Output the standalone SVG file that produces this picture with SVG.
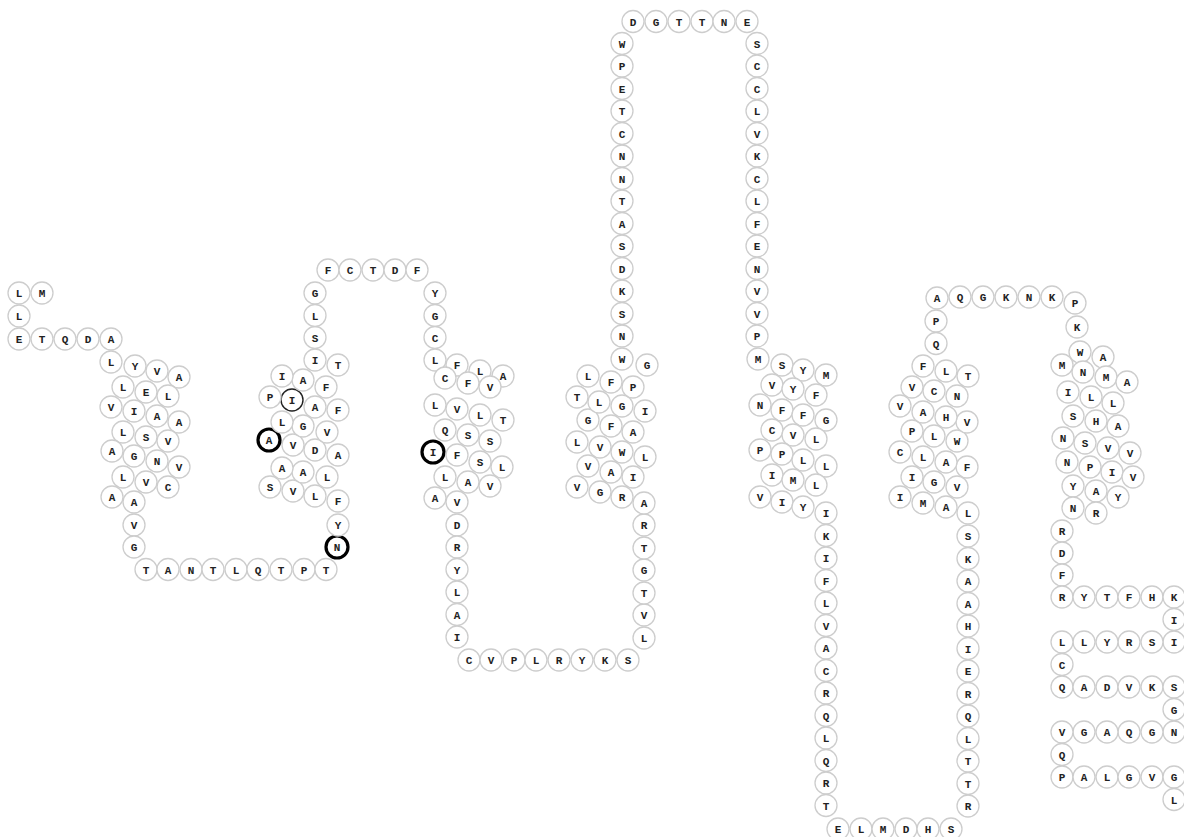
<svg xmlns="http://www.w3.org/2000/svg" width="1184" height="837" viewBox="0 0 1184 837">
<style>
circle{fill:#fff;stroke:#cdcdcd;stroke-width:1.3}
circle.b{stroke:#000;stroke-width:3.2}
circle.k{stroke:#222;stroke-width:1.4}
text{font-family:"Liberation Mono","DejaVu Sans Mono",monospace;font-weight:bold;font-size:11px;text-anchor:middle;fill:#222}
</style>
<rect width="1184" height="837" fill="#fff"/>
<g id="connectors"></g>
<g id="nterm">
<g id="r1" transform="translate(42 293)"><circle r="11"/><text y="4">M</text></g>
<g id="r2" transform="translate(19 293)"><circle r="11"/><text y="4">L</text></g>
<g id="r3" transform="translate(19 316)"><circle r="11"/><text y="4">L</text></g>
<g id="r4" transform="translate(19 339)"><circle r="11"/><text y="4">E</text></g>
<g id="r5" transform="translate(42 339)"><circle r="11"/><text y="4">T</text></g>
<g id="r6" transform="translate(65 339)"><circle r="11"/><text y="4">Q</text></g>
<g id="r7" transform="translate(88 339)"><circle r="11"/><text y="4">D</text></g>
<g id="r8" transform="translate(111 339)"><circle r="11"/><text y="4">A</text></g>
</g>
<g id="tm1">
<g id="r9" transform="translate(111 362)"><circle r="11"/><text y="4">L</text></g>
<g id="r10" transform="translate(135 366)"><circle r="11"/><text y="4">Y</text></g>
<g id="r11" transform="translate(157 371)"><circle r="11"/><text y="4">V</text></g>
<g id="r12" transform="translate(179 377)"><circle r="11"/><text y="4">A</text></g>
<g id="r13" transform="translate(123 387)"><circle r="11"/><text y="4">L</text></g>
<g id="r14" transform="translate(146 392)"><circle r="11"/><text y="4">E</text></g>
<g id="r15" transform="translate(168 396)"><circle r="11"/><text y="4">L</text></g>
<g id="r16" transform="translate(111 407)"><circle r="11"/><text y="4">V</text></g>
<g id="r17" transform="translate(134 411)"><circle r="11"/><text y="4">I</text></g>
<g id="r18" transform="translate(157 416)"><circle r="11"/><text y="4">A</text></g>
<g id="r19" transform="translate(179 422)"><circle r="11"/><text y="4">A</text></g>
<g id="r20" transform="translate(123 432)"><circle r="11"/><text y="4">L</text></g>
<g id="r21" transform="translate(146 437)"><circle r="11"/><text y="4">S</text></g>
<g id="r22" transform="translate(168 441)"><circle r="11"/><text y="4">V</text></g>
<g id="r23" transform="translate(112 451)"><circle r="11"/><text y="4">A</text></g>
<g id="r24" transform="translate(134 456)"><circle r="11"/><text y="4">G</text></g>
<g id="r25" transform="translate(157 461)"><circle r="11"/><text y="4">N</text></g>
<g id="r26" transform="translate(179 467)"><circle r="11"/><text y="4">V</text></g>
<g id="r27" transform="translate(123 477)"><circle r="11"/><text y="4">L</text></g>
<g id="r28" transform="translate(146 482)"><circle r="11"/><text y="4">V</text></g>
<g id="r29" transform="translate(168 487)"><circle r="11"/><text y="4">C</text></g>
<g id="r30" transform="translate(112 497)"><circle r="11"/><text y="4">A</text></g>
<g id="r31" transform="translate(134 502)"><circle r="11"/><text y="4">A</text></g>
<g id="r32" transform="translate(134 525)"><circle r="11"/><text y="4">V</text></g>
<g id="r33" transform="translate(134 547)"><circle r="11"/><text y="4">G</text></g>
</g>
<g id="icl1">
<g id="r34" transform="translate(146 569.5)"><circle r="11"/><text y="4">T</text></g>
<g id="r35" transform="translate(168 569.5)"><circle r="11"/><text y="4">A</text></g>
<g id="r36" transform="translate(191 569.5)"><circle r="11"/><text y="4">N</text></g>
<g id="r37" transform="translate(213 569.5)"><circle r="11"/><text y="4">T</text></g>
<g id="r38" transform="translate(236 569.5)"><circle r="11"/><text y="4">L</text></g>
<g id="r39" transform="translate(258 569.5)"><circle r="11"/><text y="4">Q</text></g>
<g id="r40" transform="translate(281 569.5)"><circle r="11"/><text y="4">T</text></g>
<g id="r41" transform="translate(304 569.5)"><circle r="11"/><text y="4">P</text></g>
<g id="r42" transform="translate(326 569.5)"><circle r="11"/><text y="4">T</text></g>
</g>
<g id="tm2">
<g id="r43" transform="translate(337 547)"><circle r="11" class="b"/><text y="4">N</text></g>
<g id="r44" transform="translate(338 525)"><circle r="11"/><text y="4">Y</text></g>
<g id="r45" transform="translate(338 501)"><circle r="11"/><text y="4">F</text></g>
<g id="r46" transform="translate(315 496)"><circle r="11"/><text y="4">L</text></g>
<g id="r47" transform="translate(293 491)"><circle r="11"/><text y="4">V</text></g>
<g id="r48" transform="translate(270 487)"><circle r="11"/><text y="4">S</text></g>
<g id="r49" transform="translate(327 477)"><circle r="11"/><text y="4">L</text></g>
<g id="r50" transform="translate(303 472)"><circle r="11"/><text y="4">A</text></g>
<g id="r51" transform="translate(282 468)"><circle r="11"/><text y="4">A</text></g>
<g id="r52" transform="translate(338 455)"><circle r="11"/><text y="4">A</text></g>
<g id="r53" transform="translate(315 450)"><circle r="11"/><text y="4">D</text></g>
<g id="r54" transform="translate(293 445)"><circle r="11"/><text y="4">V</text></g>
<g id="r55" transform="translate(269 440)"><circle r="11" class="b"/><text y="4">A</text></g>
<g id="r56" transform="translate(327 432)"><circle r="11"/><text y="4">V</text></g>
<g id="r57" transform="translate(303 426)"><circle r="11"/><text y="4">G</text></g>
<g id="r58" transform="translate(282 422)"><circle r="11"/><text y="4">L</text></g>
<g id="r59" transform="translate(338 410)"><circle r="11"/><text y="4">F</text></g>
<g id="r60" transform="translate(315 407)"><circle r="11"/><text y="4">A</text></g>
<g id="r61" transform="translate(292 400)"><circle r="11" class="k"/><text y="4">I</text></g>
<g id="r62" transform="translate(270 397)"><circle r="11"/><text y="4">P</text></g>
<g id="r63" transform="translate(326 387)"><circle r="11"/><text y="4">F</text></g>
<g id="r64" transform="translate(303 380)"><circle r="11"/><text y="4">A</text></g>
<g id="r65" transform="translate(282 376)"><circle r="11"/><text y="4">I</text></g>
<g id="r66" transform="translate(338 365)"><circle r="11"/><text y="4">T</text></g>
<g id="r67" transform="translate(315 360)"><circle r="11"/><text y="4">I</text></g>
<g id="r68" transform="translate(315 337.5)"><circle r="11"/><text y="4">S</text></g>
<g id="r69" transform="translate(315 315.5)"><circle r="11"/><text y="4">L</text></g>
<g id="r70" transform="translate(315 293)"><circle r="11"/><text y="4">G</text></g>
</g>
<g id="ecl1">
<g id="r71" transform="translate(328 270)"><circle r="11"/><text y="4">F</text></g>
<g id="r72" transform="translate(350 270)"><circle r="11"/><text y="4">C</text></g>
<g id="r73" transform="translate(373 270)"><circle r="11"/><text y="4">T</text></g>
<g id="r74" transform="translate(395 270)"><circle r="11"/><text y="4">D</text></g>
<g id="r75" transform="translate(417 270)"><circle r="11"/><text y="4">F</text></g>
</g>
<g id="tm3">
<g id="r76" transform="translate(435 293)"><circle r="11"/><text y="4">Y</text></g>
<g id="r77" transform="translate(435 315.5)"><circle r="11"/><text y="4">G</text></g>
<g id="r78" transform="translate(435 337.5)"><circle r="11"/><text y="4">C</text></g>
<g id="r79" transform="translate(435 360)"><circle r="11"/><text y="4">L</text></g>
<g id="r80" transform="translate(457 365)"><circle r="11"/><text y="4">F</text></g>
<g id="r81" transform="translate(480 371)"><circle r="11"/><text y="4">L</text></g>
<g id="r82" transform="translate(503 376)"><circle r="11"/><text y="4">A</text></g>
<g id="r83" transform="translate(445 378)"><circle r="11"/><text y="4">C</text></g>
<g id="r84" transform="translate(468 383)"><circle r="11"/><text y="4">F</text></g>
<g id="r85" transform="translate(490 387)"><circle r="11"/><text y="4">V</text></g>
<g id="r86" transform="translate(435 405)"><circle r="11"/><text y="4">L</text></g>
<g id="r87" transform="translate(457 409)"><circle r="11"/><text y="4">V</text></g>
<g id="r88" transform="translate(480 415)"><circle r="11"/><text y="4">L</text></g>
<g id="r89" transform="translate(503 420)"><circle r="11"/><text y="4">T</text></g>
<g id="r90" transform="translate(445 430)"><circle r="11"/><text y="4">Q</text></g>
<g id="r91" transform="translate(468 435)"><circle r="11"/><text y="4">S</text></g>
<g id="r92" transform="translate(490 441)"><circle r="11"/><text y="4">S</text></g>
<g id="r93" transform="translate(433 452)"><circle r="11" class="b"/><text y="4">I</text></g>
<g id="r94" transform="translate(457 455)"><circle r="11"/><text y="4">F</text></g>
<g id="r95" transform="translate(480 462)"><circle r="11"/><text y="4">S</text></g>
<g id="r96" transform="translate(502 467)"><circle r="11"/><text y="4">L</text></g>
<g id="r97" transform="translate(445 477)"><circle r="11"/><text y="4">L</text></g>
<g id="r98" transform="translate(468 482)"><circle r="11"/><text y="4">A</text></g>
<g id="r99" transform="translate(490 486)"><circle r="11"/><text y="4">V</text></g>
<g id="r100" transform="translate(435 498)"><circle r="11"/><text y="4">A</text></g>
<g id="r101" transform="translate(457 502)"><circle r="11"/><text y="4">V</text></g>
<g id="r102" transform="translate(457 525)"><circle r="11"/><text y="4">D</text></g>
<g id="r103" transform="translate(457 547)"><circle r="11"/><text y="4">R</text></g>
<g id="r104" transform="translate(457 569.5)"><circle r="11"/><text y="4">Y</text></g>
<g id="r105" transform="translate(457 592)"><circle r="11"/><text y="4">L</text></g>
<g id="r106" transform="translate(457 614.5)"><circle r="11"/><text y="4">A</text></g>
<g id="r107" transform="translate(457 637)"><circle r="11"/><text y="4">I</text></g>
</g>
<g id="icl2">
<g id="r108" transform="translate(469 660)"><circle r="11"/><text y="4">C</text></g>
<g id="r109" transform="translate(491 660)"><circle r="11"/><text y="4">V</text></g>
<g id="r110" transform="translate(514 660)"><circle r="11"/><text y="4">P</text></g>
<g id="r111" transform="translate(536 660)"><circle r="11"/><text y="4">L</text></g>
<g id="r112" transform="translate(559 660)"><circle r="11"/><text y="4">R</text></g>
<g id="r113" transform="translate(582 660)"><circle r="11"/><text y="4">Y</text></g>
<g id="r114" transform="translate(605 660)"><circle r="11"/><text y="4">K</text></g>
<g id="r115" transform="translate(628 660)"><circle r="11"/><text y="4">S</text></g>
</g>
<g id="tm4">
<g id="r116" transform="translate(644 638)"><circle r="11"/><text y="4">L</text></g>
<g id="r117" transform="translate(644 615)"><circle r="11"/><text y="4">V</text></g>
<g id="r118" transform="translate(644 593)"><circle r="11"/><text y="4">T</text></g>
<g id="r119" transform="translate(644 570)"><circle r="11"/><text y="4">G</text></g>
<g id="r120" transform="translate(644 548)"><circle r="11"/><text y="4">T</text></g>
<g id="r121" transform="translate(644 525)"><circle r="11"/><text y="4">R</text></g>
<g id="r122" transform="translate(644 503)"><circle r="11"/><text y="4">A</text></g>
<g id="r123" transform="translate(622 497)"><circle r="11"/><text y="4">R</text></g>
<g id="r124" transform="translate(600 492)"><circle r="11"/><text y="4">G</text></g>
<g id="r125" transform="translate(577 487)"><circle r="11"/><text y="4">V</text></g>
<g id="r126" transform="translate(633 477)"><circle r="11"/><text y="4">I</text></g>
<g id="r127" transform="translate(611 472)"><circle r="11"/><text y="4">A</text></g>
<g id="r128" transform="translate(588 466)"><circle r="11"/><text y="4">V</text></g>
<g id="r129" transform="translate(645 457)"><circle r="11"/><text y="4">L</text></g>
<g id="r130" transform="translate(622 452)"><circle r="11"/><text y="4">W</text></g>
<g id="r131" transform="translate(600 447)"><circle r="11"/><text y="4">V</text></g>
<g id="r132" transform="translate(577 442)"><circle r="11"/><text y="4">L</text></g>
<g id="r133" transform="translate(633 432)"><circle r="11"/><text y="4">A</text></g>
<g id="r134" transform="translate(611 426)"><circle r="11"/><text y="4">F</text></g>
<g id="r135" transform="translate(588 420)"><circle r="11"/><text y="4">G</text></g>
<g id="r136" transform="translate(645 411)"><circle r="11"/><text y="4">I</text></g>
<g id="r137" transform="translate(622 406)"><circle r="11"/><text y="4">G</text></g>
<g id="r138" transform="translate(599 402)"><circle r="11"/><text y="4">L</text></g>
<g id="r139" transform="translate(577 397)"><circle r="11"/><text y="4">T</text></g>
<g id="r140" transform="translate(633 387)"><circle r="11"/><text y="4">P</text></g>
<g id="r141" transform="translate(611 382)"><circle r="11"/><text y="4">F</text></g>
<g id="r142" transform="translate(588 376)"><circle r="11"/><text y="4">L</text></g>
<g id="r143" transform="translate(647 365)"><circle r="11"/><text y="4">G</text></g>
<g id="r144" transform="translate(622 359)"><circle r="11"/><text y="4">W</text></g>
</g>
<g id="ecl2">
<g id="r145" transform="translate(622 336)"><circle r="11"/><text y="4">N</text></g>
<g id="r146" transform="translate(622 313.5)"><circle r="11"/><text y="4">S</text></g>
<g id="r147" transform="translate(622 291)"><circle r="11"/><text y="4">K</text></g>
<g id="r148" transform="translate(622 268.5)"><circle r="11"/><text y="4">D</text></g>
<g id="r149" transform="translate(622 246)"><circle r="11"/><text y="4">S</text></g>
<g id="r150" transform="translate(622 223.5)"><circle r="11"/><text y="4">A</text></g>
<g id="r151" transform="translate(622 201)"><circle r="11"/><text y="4">T</text></g>
<g id="r152" transform="translate(622 178.5)"><circle r="11"/><text y="4">N</text></g>
<g id="r153" transform="translate(622 156)"><circle r="11"/><text y="4">N</text></g>
<g id="r154" transform="translate(622 133.5)"><circle r="11"/><text y="4">C</text></g>
<g id="r155" transform="translate(622 111)"><circle r="11"/><text y="4">T</text></g>
<g id="r156" transform="translate(622 88.5)"><circle r="11"/><text y="4">E</text></g>
<g id="r157" transform="translate(622 66)"><circle r="11"/><text y="4">P</text></g>
<g id="r158" transform="translate(622 43.5)"><circle r="11"/><text y="4">W</text></g>
<g id="r159" transform="translate(633 21.5)"><circle r="11"/><text y="4">D</text></g>
<g id="r160" transform="translate(656 21.5)"><circle r="11"/><text y="4">G</text></g>
<g id="r161" transform="translate(679 21.5)"><circle r="11"/><text y="4">T</text></g>
<g id="r162" transform="translate(702 21.5)"><circle r="11"/><text y="4">T</text></g>
<g id="r163" transform="translate(724 21.5)"><circle r="11"/><text y="4">N</text></g>
<g id="r164" transform="translate(747 21.5)"><circle r="11"/><text y="4">E</text></g>
<g id="r165" transform="translate(757 43.5)"><circle r="11"/><text y="4">S</text></g>
<g id="r166" transform="translate(757 66)"><circle r="11"/><text y="4">C</text></g>
<g id="r167" transform="translate(757 88.5)"><circle r="11"/><text y="4">C</text></g>
<g id="r168" transform="translate(757 111)"><circle r="11"/><text y="4">L</text></g>
<g id="r169" transform="translate(757 133.5)"><circle r="11"/><text y="4">V</text></g>
<g id="r170" transform="translate(757 156)"><circle r="11"/><text y="4">K</text></g>
<g id="r171" transform="translate(757 178.5)"><circle r="11"/><text y="4">C</text></g>
<g id="r172" transform="translate(757 201)"><circle r="11"/><text y="4">L</text></g>
<g id="r173" transform="translate(757 223.5)"><circle r="11"/><text y="4">F</text></g>
<g id="r174" transform="translate(757 246)"><circle r="11"/><text y="4">E</text></g>
<g id="r175" transform="translate(757 268.5)"><circle r="11"/><text y="4">N</text></g>
<g id="r176" transform="translate(757 291)"><circle r="11"/><text y="4">V</text></g>
<g id="r177" transform="translate(757 313.5)"><circle r="11"/><text y="4">V</text></g>
<g id="r178" transform="translate(757 336)"><circle r="11"/><text y="4">P</text></g>
</g>
<g id="tm5">
<g id="r179" transform="translate(758 359)"><circle r="11"/><text y="4">M</text></g>
<g id="r180" transform="translate(782 365)"><circle r="11"/><text y="4">S</text></g>
<g id="r181" transform="translate(803 370)"><circle r="11"/><text y="4">Y</text></g>
<g id="r182" transform="translate(826 375)"><circle r="11"/><text y="4">M</text></g>
<g id="r183" transform="translate(772 385)"><circle r="11"/><text y="4">V</text></g>
<g id="r184" transform="translate(793 389)"><circle r="11"/><text y="4">Y</text></g>
<g id="r185" transform="translate(816 395)"><circle r="11"/><text y="4">F</text></g>
<g id="r186" transform="translate(760 405)"><circle r="11"/><text y="4">N</text></g>
<g id="r187" transform="translate(782 410)"><circle r="11"/><text y="4">F</text></g>
<g id="r188" transform="translate(803 415)"><circle r="11"/><text y="4">F</text></g>
<g id="r189" transform="translate(826 420)"><circle r="11"/><text y="4">G</text></g>
<g id="r190" transform="translate(772 430)"><circle r="11"/><text y="4">C</text></g>
<g id="r191" transform="translate(793 435)"><circle r="11"/><text y="4">V</text></g>
<g id="r192" transform="translate(816 439)"><circle r="11"/><text y="4">L</text></g>
<g id="r193" transform="translate(760 450)"><circle r="11"/><text y="4">P</text></g>
<g id="r194" transform="translate(782 454)"><circle r="11"/><text y="4">P</text></g>
<g id="r195" transform="translate(803 460)"><circle r="11"/><text y="4">L</text></g>
<g id="r196" transform="translate(826 466)"><circle r="11"/><text y="4">L</text></g>
<g id="r197" transform="translate(772 475)"><circle r="11"/><text y="4">I</text></g>
<g id="r198" transform="translate(793 480)"><circle r="11"/><text y="4">M</text></g>
<g id="r199" transform="translate(816 485)"><circle r="11"/><text y="4">L</text></g>
<g id="r200" transform="translate(760 497)"><circle r="11"/><text y="4">V</text></g>
<g id="r201" transform="translate(782 502)"><circle r="11"/><text y="4">I</text></g>
<g id="r202" transform="translate(803 507)"><circle r="11"/><text y="4">Y</text></g>
<g id="r203" transform="translate(826 513)"><circle r="11"/><text y="4">I</text></g>
</g>
<g id="icl3">
<g id="r204" transform="translate(826 535.5)"><circle r="11"/><text y="4">K</text></g>
<g id="r205" transform="translate(826 558)"><circle r="11"/><text y="4">I</text></g>
<g id="r206" transform="translate(826 580.5)"><circle r="11"/><text y="4">F</text></g>
<g id="r207" transform="translate(826 603)"><circle r="11"/><text y="4">L</text></g>
<g id="r208" transform="translate(826 625.5)"><circle r="11"/><text y="4">V</text></g>
<g id="r209" transform="translate(826 648)"><circle r="11"/><text y="4">A</text></g>
<g id="r210" transform="translate(826 670.5)"><circle r="11"/><text y="4">C</text></g>
<g id="r211" transform="translate(826 693)"><circle r="11"/><text y="4">R</text></g>
<g id="r212" transform="translate(826 715.5)"><circle r="11"/><text y="4">Q</text></g>
<g id="r213" transform="translate(826 738)"><circle r="11"/><text y="4">L</text></g>
<g id="r214" transform="translate(826 760.5)"><circle r="11"/><text y="4">Q</text></g>
<g id="r215" transform="translate(826 783)"><circle r="11"/><text y="4">R</text></g>
<g id="r216" transform="translate(826 805.5)"><circle r="11"/><text y="4">T</text></g>
<g id="r217" transform="translate(838 829)"><circle r="11"/><text y="4">E</text></g>
<g id="r218" transform="translate(861 829)"><circle r="11"/><text y="4">L</text></g>
<g id="r219" transform="translate(883 829)"><circle r="11"/><text y="4">M</text></g>
<g id="r220" transform="translate(906 829)"><circle r="11"/><text y="4">D</text></g>
<g id="r221" transform="translate(928 829)"><circle r="11"/><text y="4">H</text></g>
<g id="r222" transform="translate(951 829)"><circle r="11"/><text y="4">S</text></g>
<g id="r223" transform="translate(968 806)"><circle r="11"/><text y="4">R</text></g>
<g id="r224" transform="translate(968 783.5)"><circle r="11"/><text y="4">T</text></g>
<g id="r225" transform="translate(968 761)"><circle r="11"/><text y="4">T</text></g>
<g id="r226" transform="translate(968 738.5)"><circle r="11"/><text y="4">L</text></g>
<g id="r227" transform="translate(968 716)"><circle r="11"/><text y="4">Q</text></g>
<g id="r228" transform="translate(968 693.5)"><circle r="11"/><text y="4">R</text></g>
<g id="r229" transform="translate(968 671)"><circle r="11"/><text y="4">E</text></g>
<g id="r230" transform="translate(968 648.5)"><circle r="11"/><text y="4">I</text></g>
<g id="r231" transform="translate(968 626)"><circle r="11"/><text y="4">H</text></g>
<g id="r232" transform="translate(968 603.5)"><circle r="11"/><text y="4">A</text></g>
<g id="r233" transform="translate(968 581)"><circle r="11"/><text y="4">A</text></g>
<g id="r234" transform="translate(968 558.5)"><circle r="11"/><text y="4">K</text></g>
<g id="r235" transform="translate(968 536)"><circle r="11"/><text y="4">S</text></g>
</g>
<g id="tm6">
<g id="r236" transform="translate(968 513)"><circle r="11"/><text y="4">L</text></g>
<g id="r237" transform="translate(946 507)"><circle r="11"/><text y="4">A</text></g>
<g id="r238" transform="translate(923 503)"><circle r="11"/><text y="4">M</text></g>
<g id="r239" transform="translate(900 497)"><circle r="11"/><text y="4">I</text></g>
<g id="r240" transform="translate(957 487)"><circle r="11"/><text y="4">V</text></g>
<g id="r241" transform="translate(934 482)"><circle r="11"/><text y="4">G</text></g>
<g id="r242" transform="translate(912 477)"><circle r="11"/><text y="4">I</text></g>
<g id="r243" transform="translate(967 467)"><circle r="11"/><text y="4">F</text></g>
<g id="r244" transform="translate(946 462)"><circle r="11"/><text y="4">A</text></g>
<g id="r245" transform="translate(923 457)"><circle r="11"/><text y="4">L</text></g>
<g id="r246" transform="translate(900 452)"><circle r="11"/><text y="4">C</text></g>
<g id="r247" transform="translate(957 441)"><circle r="11"/><text y="4">W</text></g>
<g id="r248" transform="translate(934 436)"><circle r="11"/><text y="4">L</text></g>
<g id="r249" transform="translate(912 431)"><circle r="11"/><text y="4">P</text></g>
<g id="r250" transform="translate(967 422)"><circle r="11"/><text y="4">V</text></g>
<g id="r251" transform="translate(946 417)"><circle r="11"/><text y="4">H</text></g>
<g id="r252" transform="translate(923 412)"><circle r="11"/><text y="4">A</text></g>
<g id="r253" transform="translate(900 406)"><circle r="11"/><text y="4">V</text></g>
<g id="r254" transform="translate(957 396)"><circle r="11"/><text y="4">N</text></g>
<g id="r255" transform="translate(934 391)"><circle r="11"/><text y="4">C</text></g>
<g id="r256" transform="translate(912 387)"><circle r="11"/><text y="4">V</text></g>
<g id="r257" transform="translate(968 376)"><circle r="11"/><text y="4">T</text></g>
<g id="r258" transform="translate(946 371)"><circle r="11"/><text y="4">L</text></g>
<g id="r259" transform="translate(923 366)"><circle r="11"/><text y="4">F</text></g>
</g>
<g id="ecl3">
<g id="r260" transform="translate(936 343.5)"><circle r="11"/><text y="4">Q</text></g>
<g id="r261" transform="translate(936 321)"><circle r="11"/><text y="4">P</text></g>
<g id="r262" transform="translate(937 298)"><circle r="11"/><text y="4">A</text></g>
<g id="r263" transform="translate(960 297)"><circle r="11"/><text y="4">Q</text></g>
<g id="r264" transform="translate(983 297)"><circle r="11"/><text y="4">G</text></g>
<g id="r265" transform="translate(1006 297)"><circle r="11"/><text y="4">K</text></g>
<g id="r266" transform="translate(1029 297)"><circle r="11"/><text y="4">N</text></g>
<g id="r267" transform="translate(1052 297)"><circle r="11"/><text y="4">K</text></g>
<g id="r268" transform="translate(1075 303)"><circle r="11"/><text y="4">P</text></g>
<g id="r269" transform="translate(1077 327)"><circle r="11"/><text y="4">K</text></g>
</g>
<g id="tm7">
<g id="r270" transform="translate(1080 352)"><circle r="11"/><text y="4">W</text></g>
<g id="r271" transform="translate(1103 357)"><circle r="11"/><text y="4">A</text></g>
<g id="r272" transform="translate(1062 365)"><circle r="11"/><text y="4">M</text></g>
<g id="r273" transform="translate(1083 372)"><circle r="11"/><text y="4">N</text></g>
<g id="r274" transform="translate(1106 377)"><circle r="11"/><text y="4">M</text></g>
<g id="r275" transform="translate(1127 382)"><circle r="11"/><text y="4">A</text></g>
<g id="r276" transform="translate(1068 392)"><circle r="11"/><text y="4">I</text></g>
<g id="r277" transform="translate(1091 397)"><circle r="11"/><text y="4">L</text></g>
<g id="r278" transform="translate(1113 403)"><circle r="11"/><text y="4">L</text></g>
<g id="r279" transform="translate(1073 416)"><circle r="11"/><text y="4">S</text></g>
<g id="r280" transform="translate(1096 421)"><circle r="11"/><text y="4">H</text></g>
<g id="r281" transform="translate(1118 426)"><circle r="11"/><text y="4">A</text></g>
<g id="r282" transform="translate(1063 438)"><circle r="11"/><text y="4">N</text></g>
<g id="r283" transform="translate(1085 443)"><circle r="11"/><text y="4">S</text></g>
<g id="r284" transform="translate(1108 448)"><circle r="11"/><text y="4">V</text></g>
<g id="r285" transform="translate(1130 453)"><circle r="11"/><text y="4">V</text></g>
<g id="r286" transform="translate(1067 462)"><circle r="11"/><text y="4">N</text></g>
<g id="r287" transform="translate(1090 467)"><circle r="11"/><text y="4">P</text></g>
<g id="r288" transform="translate(1112 472)"><circle r="11"/><text y="4">I</text></g>
<g id="r289" transform="translate(1133 477)"><circle r="11"/><text y="4">V</text></g>
<g id="r290" transform="translate(1073 486)"><circle r="11"/><text y="4">Y</text></g>
<g id="r291" transform="translate(1096 491)"><circle r="11"/><text y="4">A</text></g>
<g id="r292" transform="translate(1118 497)"><circle r="11"/><text y="4">Y</text></g>
<g id="r293" transform="translate(1073 508)"><circle r="11"/><text y="4">N</text></g>
<g id="r294" transform="translate(1096 513)"><circle r="11"/><text y="4">R</text></g>
</g>
<g id="cterm">
<g id="r295" transform="translate(1062 531)"><circle r="11"/><text y="4">R</text></g>
<g id="r296" transform="translate(1062 553)"><circle r="11"/><text y="4">D</text></g>
<g id="r297" transform="translate(1062 575)"><circle r="11"/><text y="4">F</text></g>
<g id="r298" transform="translate(1062 597)"><circle r="11"/><text y="4">R</text></g>
<g id="r299" transform="translate(1084 597)"><circle r="11"/><text y="4">Y</text></g>
<g id="r300" transform="translate(1107 597)"><circle r="11"/><text y="4">T</text></g>
<g id="r301" transform="translate(1129 597)"><circle r="11"/><text y="4">F</text></g>
<g id="r302" transform="translate(1152 597)"><circle r="11"/><text y="4">H</text></g>
<g id="r303" transform="translate(1174 597)"><circle r="11"/><text y="4">K</text></g>
<g id="r304" transform="translate(1174 619.5)"><circle r="11"/><text y="4">I</text></g>
<g id="r305" transform="translate(1174 642)"><circle r="11"/><text y="4">I</text></g>
<g id="r306" transform="translate(1152 642)"><circle r="11"/><text y="4">S</text></g>
<g id="r307" transform="translate(1129 642)"><circle r="11"/><text y="4">R</text></g>
<g id="r308" transform="translate(1107 642)"><circle r="11"/><text y="4">Y</text></g>
<g id="r309" transform="translate(1084 642)"><circle r="11"/><text y="4">L</text></g>
<g id="r310" transform="translate(1062 642)"><circle r="11"/><text y="4">L</text></g>
<g id="r311" transform="translate(1062 664.5)"><circle r="11"/><text y="4">C</text></g>
<g id="r312" transform="translate(1062 687)"><circle r="11"/><text y="4">Q</text></g>
<g id="r313" transform="translate(1084 687)"><circle r="11"/><text y="4">A</text></g>
<g id="r314" transform="translate(1107 687)"><circle r="11"/><text y="4">D</text></g>
<g id="r315" transform="translate(1129 687)"><circle r="11"/><text y="4">V</text></g>
<g id="r316" transform="translate(1152 687)"><circle r="11"/><text y="4">K</text></g>
<g id="r317" transform="translate(1174 687)"><circle r="11"/><text y="4">S</text></g>
<g id="r318" transform="translate(1174 709.5)"><circle r="11"/><text y="4">G</text></g>
<g id="r319" transform="translate(1174 732)"><circle r="11"/><text y="4">N</text></g>
<g id="r320" transform="translate(1152 732)"><circle r="11"/><text y="4">G</text></g>
<g id="r321" transform="translate(1129 732)"><circle r="11"/><text y="4">Q</text></g>
<g id="r322" transform="translate(1107 732)"><circle r="11"/><text y="4">A</text></g>
<g id="r323" transform="translate(1084 732)"><circle r="11"/><text y="4">G</text></g>
<g id="r324" transform="translate(1062 732)"><circle r="11"/><text y="4">V</text></g>
<g id="r325" transform="translate(1062 754.5)"><circle r="11"/><text y="4">Q</text></g>
<g id="r326" transform="translate(1062 777)"><circle r="11"/><text y="4">P</text></g>
<g id="r327" transform="translate(1084 777)"><circle r="11"/><text y="4">A</text></g>
<g id="r328" transform="translate(1107 777)"><circle r="11"/><text y="4">L</text></g>
<g id="r329" transform="translate(1129 777)"><circle r="11"/><text y="4">G</text></g>
<g id="r330" transform="translate(1152 777)"><circle r="11"/><text y="4">V</text></g>
<g id="r331" transform="translate(1174 777)"><circle r="11"/><text y="4">G</text></g>
<g id="r332" transform="translate(1174 799.5)"><circle r="11"/><text y="4">L</text></g>
</g>
</svg>
